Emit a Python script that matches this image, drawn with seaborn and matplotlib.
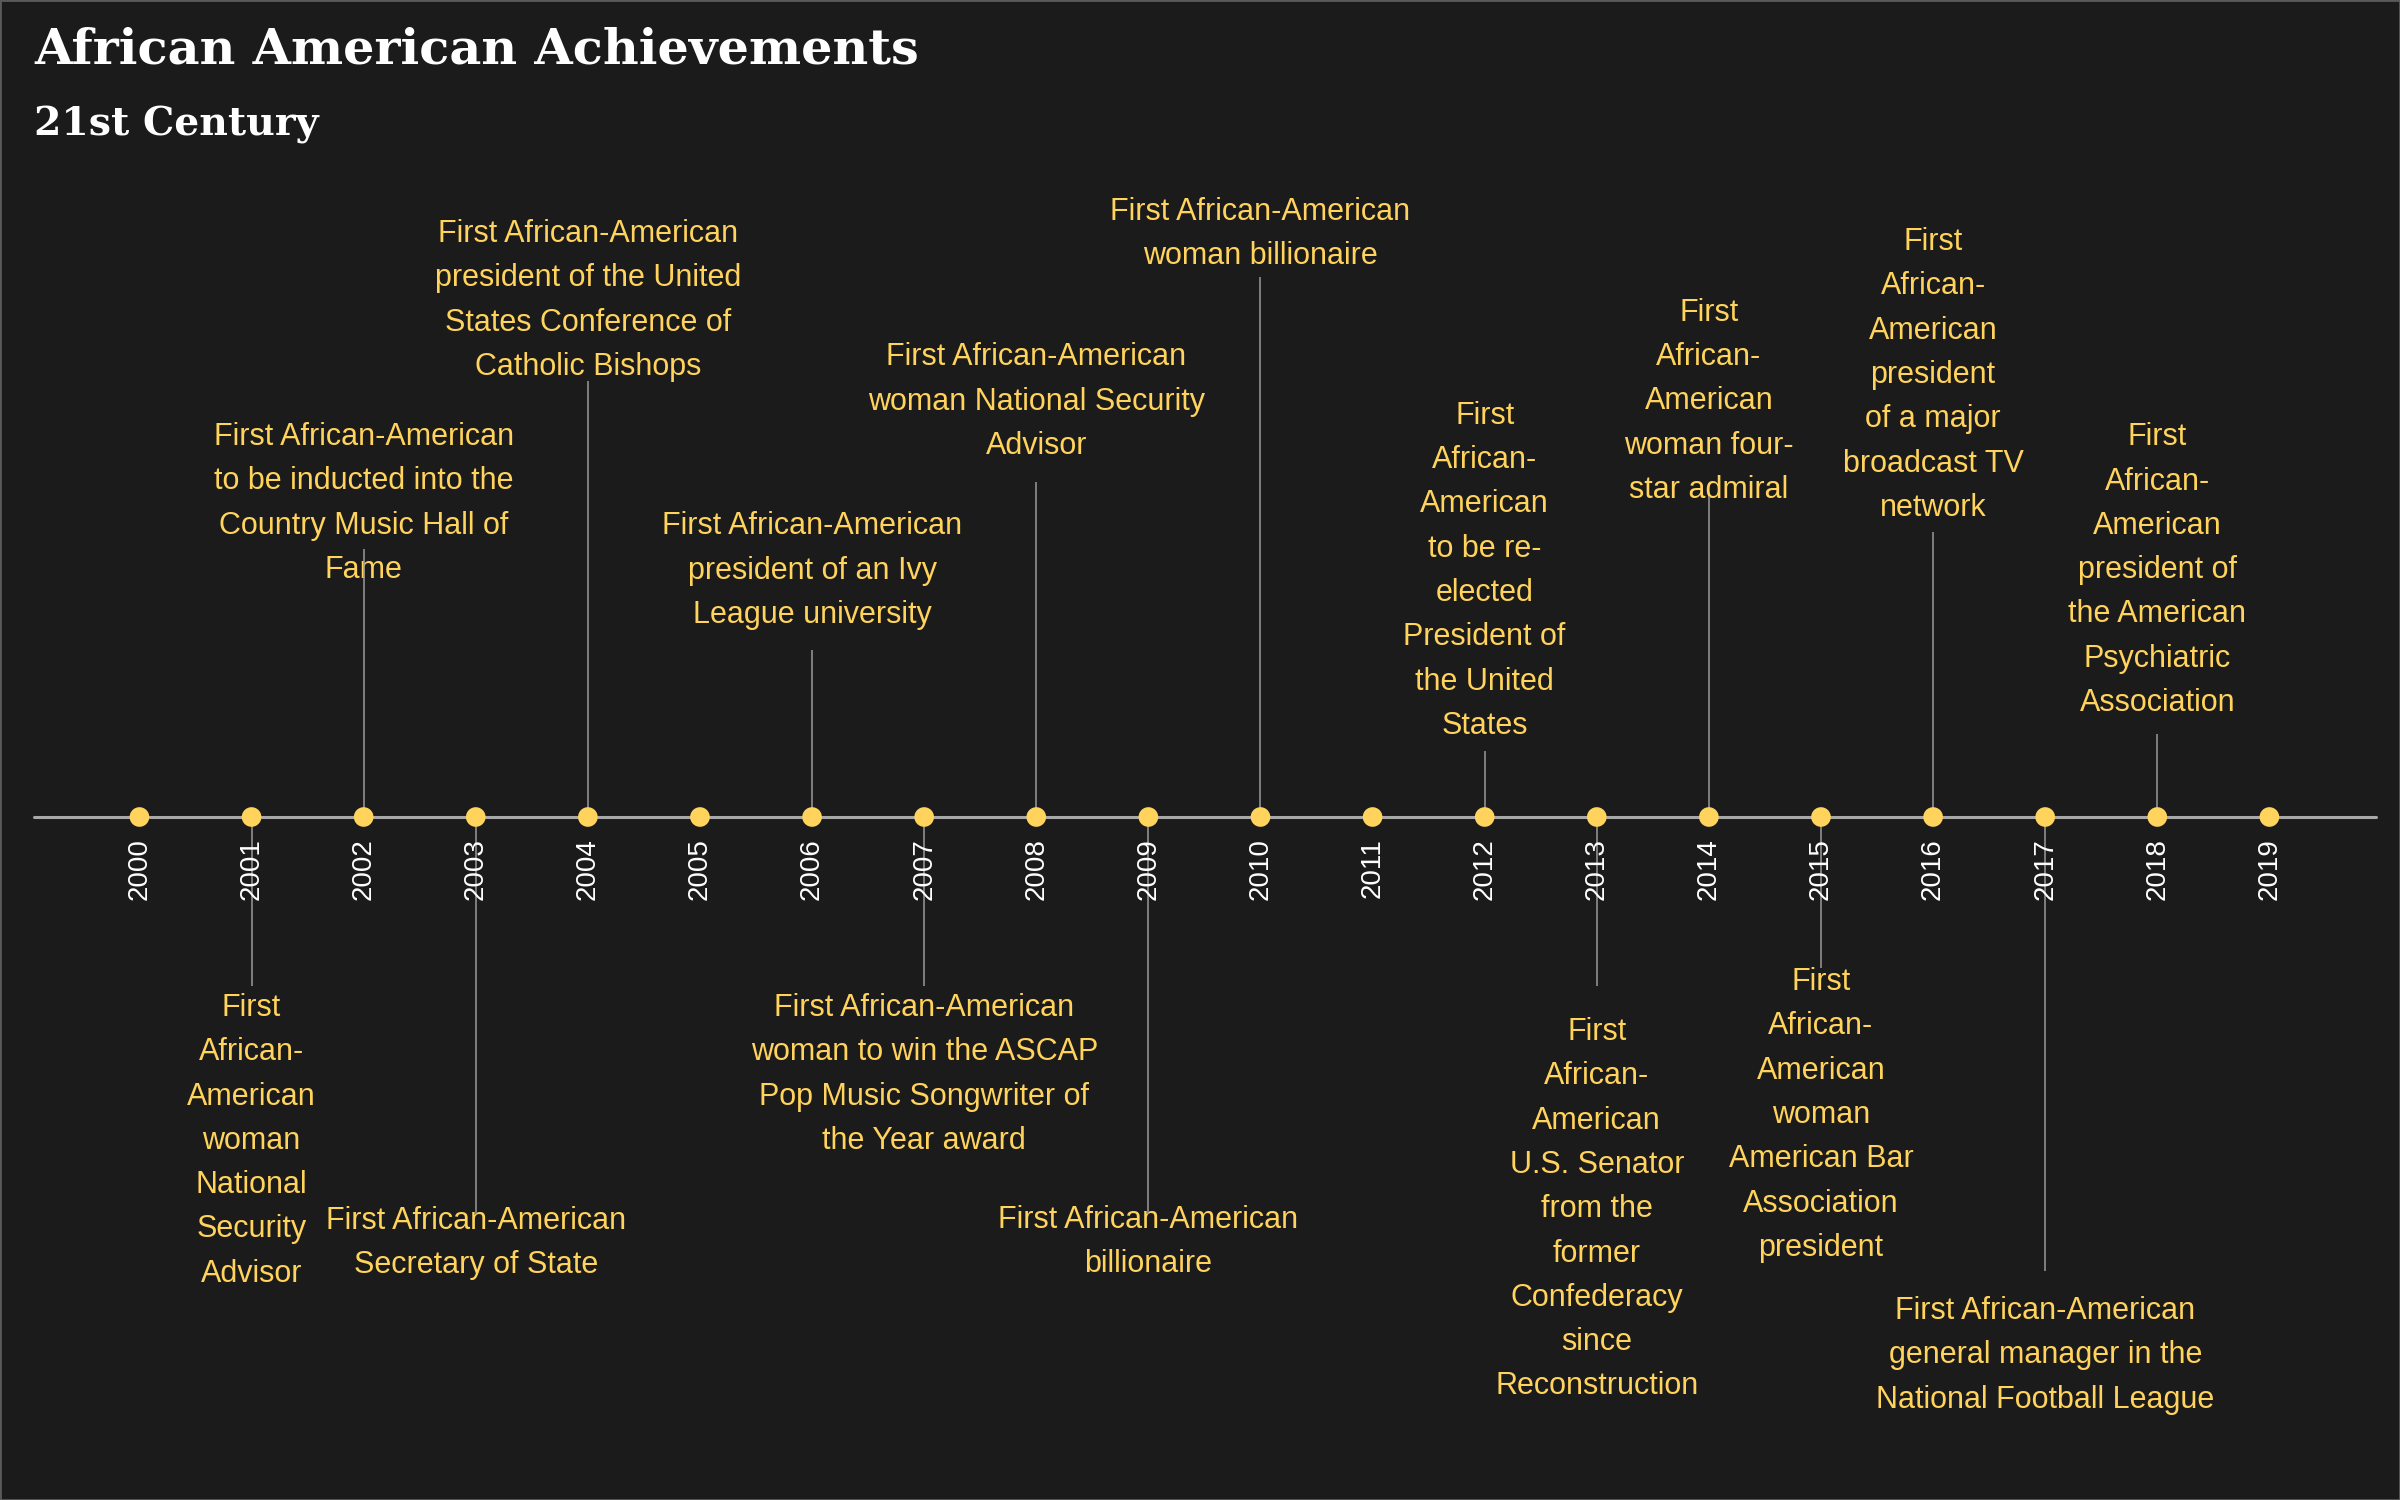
import matplotlib
matplotlib.use('Agg')
import matplotlib.pyplot as plt
import seaborn as sns
import pandas as pd

# all the years on the axis
years = [2000, 2001, 2002, 2003, 2004, 2005, 2006, 2007, 2008, 2009,
         2010, 2011, 2012, 2013, 2014, 2015, 2016, 2017, 2018, 2019]

# events: year, stem height (+ above / - below the axis), text
event_years = [2001, 2002, 2003, 2004, 2006, 2007, 2008, 2009,
               2010, 2012, 2013, 2014, 2015, 2016, 2017, 2018]
event_levels = [-1.69, 2.68, -3.97, 4.36, 1.67, -1.69, 3.35, -3.97,
                5.40, 0.66, -1.69, 3.21, -1.51, 2.85, -4.54, 0.83]
event_labels = [
    "First\nAfrican-\nAmerican\nwoman\nNational\nSecurity\nAdvisor",
    "First African-American\nto be inducted into the\nCountry Music Hall of\nFame",
    "First African-American\nSecretary of State",
    "First African-American\npresident of the United\nStates Conference of\nCatholic Bishops",
    "First African-American\npresident of an Ivy\nLeague university",
    "First African-American\nwoman to win the ASCAP\nPop Music Songwriter of\nthe Year award",
    "First African-American\nwoman National Security\nAdvisor",
    "First African-American\nbillionaire",
    "First African-American\nwoman billionaire",
    "First\nAfrican-\nAmerican\nto be re-\nelected\nPresident of\nthe United\nStates",
    "First\nAfrican-\nAmerican\nU.S. Senator\nfrom the\nformer\nConfederacy\nsince\nReconstruction",
    "First\nAfrican-\nAmerican\nwoman four-\nstar admiral",
    "First\nAfrican-\nAmerican\nwoman\nAmerican Bar\nAssociation\npresident",
    "First\nAfrican-\nAmerican\npresident\nof a major\nbroadcast TV\nnetwork",
    "First African-American\ngeneral manager in the\nNational Football League",
    "First\nAfrican-\nAmerican\npresident of\nthe American\nPsychiatric\nAssociation",
]

# layout: where the text line nearest the axis sits
label_y = [-1.88, 2.50, -4.01, 4.53, 2.05, -1.88, 3.74, -4.00,
           5.64, 0.94, -2.12, 3.30, -1.62, 3.12, -4.91, 1.17]

BG = '#1b1b1b'
GOLD = '#ffd35c'
LINE_STEP = 0.443

sns.set_theme(style='dark', rc={'axes.facecolor': BG, 'figure.facecolor': BG})
plt.rcParams['font.family'] = ['Liberation Sans', 'DejaVu Sans']

fig = plt.figure(figsize=(12, 7.5), dpi=200)
ax = fig.add_axes([0, 0, 1, 1])
ax.set_xlim(1998.756, 2020.165)
ax.set_ylim(-6.83, 8.17)
ax.axis('off')

# main axis line
ax.axhline(0, xmin=0.0142, xmax=0.990, color='#a8a8a8', lw=1.1, zorder=1)

# stems
ax.vlines(event_years, 0, event_levels, color='#9a9a9a', lw=0.55, zorder=3)

# dots
dots = pd.DataFrame({'year': years, 'y': [0] * len(years)})
sns.scatterplot(data=dots, x='year', y='y', ax=ax, color=GOLD, s=50,
                edgecolor='none', zorder=4, legend=False)
ax.set_xlabel('')
ax.set_ylabel('')

# year labels
for yr in years:
    ax.text(yr, -0.21, str(yr), rotation=90, ha='center', va='top',
            color='white', fontsize=10.0, zorder=5)

# event texts, line by line
for yr, lvl, lab, ly in zip(event_years, event_levels, event_labels, label_y):
    lines = lab.split('\n')
    if lvl > 0:
        lines = lines[::-1]
        step = LINE_STEP
    else:
        step = -LINE_STEP
    for k, line in enumerate(lines):
        ax.text(yr, ly + k * step - 0.11, line, ha='center', va='baseline',
                color=GOLD, fontsize=11.0, zorder=2)

# titles
fig.text(34 / 2400, 1 - 63 / 1500, 'African American Achievements',
         family='DejaVu Serif', weight='bold', color='white', fontsize=17.8,
         va='baseline', ha='left')
fig.text(34 / 2400, 1 - 135 / 1500, '21st Century',
         family='DejaVu Serif', weight='bold', color='white', fontsize=14.2,
         va='baseline', ha='left')

# thin frame round the picture
fig.patches.append(plt.Rectangle((0, 0), 1, 1, transform=fig.transFigure,
                                 fill=False, edgecolor='#5a5a5a', lw=1.0))

fig.savefig('out.png', dpi=200, facecolor=BG)
